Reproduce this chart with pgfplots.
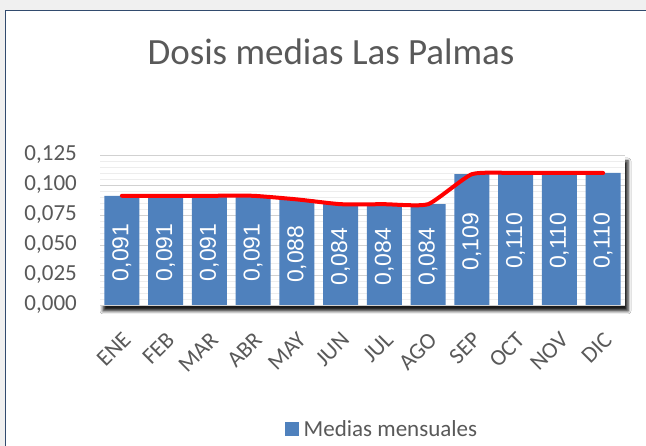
\documentclass[border=0pt]{standalone}
\usepackage{fontspec}
\setmainfont{Carlito}
\newfontfamily\arialf{Liberation Sans}
\usepackage{pgfplots}
\pgfplotsset{compat=1.18}
\usetikzlibrary{shadows.blur}
\definecolor{barblue}{RGB}{79,129,189}
\definecolor{txtgray}{RGB}{89,89,89}
\definecolor{framec}{RGB}{50,75,110}
\definecolor{bggray}{RGB}{240,240,240}
\pgfkeys{/pgf/number format/.cd, assume math mode=true, use comma, fixed, fixed zerofill, precision=3}
\begin{document}
\begin{tikzpicture}[x=1bp,y=1bp]
\path[use as bounding box] (0,0) rectangle (646,446);
\fill[bggray] (0,0) rectangle (646,446);
\fill[white] (5,0) rectangle (646,436);
\draw[framec, line width=1.5bp] (5.5,-2) -- (5.5,435.5) -- (648,435.5);
\node[anchor=base, text=txtgray, font=\fontsize{37bp}{44bp}\selectfont] at (331,381) {Dosis medias Las Palmas};
\begin{axis}[
  at={(100bp,141bp)}, anchor=south west,
  scale only axis, width=525bp, height=150bp,
  xmin=-0.5, xmax=11.5,
  ymin=0, ymax=0.125,
  xtick={0,...,11},
  xticklabels={ENE,FEB,MAR,ABR,MAY,JUN,JUL,AGO,SEP,OCT,NOV,DIC},
  ytick={0,0.025,0.05,0.075,0.1,0.125},
  scaled y ticks=false,
  major tick length=0pt, minor tick length=0pt,
  ymajorgrids, yminorgrids, minor y tick num=4,
  major grid style={draw=black!18, line width=0.8bp},
  minor grid style={draw=black!7, line width=0.6bp},
  axis line style={draw=none},
  axis background/.style={fill=white, blur shadow={shadow xshift=3bp, shadow yshift=-6bp, shadow blur radius=3bp, shadow opacity=90}},
  tick label style={text=txtgray, font=\fontsize{23bp}{27bp}\selectfont, inner sep=0pt},
  yticklabel style={anchor=east, xshift=-23bp},
  xticklabel style={xshift=5bp, yshift=-31bp, rotate=45, anchor=east},
  legend style={at={(0.537,-0.827)}, anchor=center, draw=none, fill=none,
    font=\fontsize{23bp}{27bp}\selectfont, text=txtgray},
  legend image code/.code={\fill[barblue] (0bp,-7bp) rectangle (14bp,7bp);},
]
\addplot[ybar, bar width=35bp, fill=barblue, draw=none,
  visualization depends on=rawy \as \rawy,
  nodes near coords={\pgfmathprintnumber{\pgfplotspointmeta}},
  every node near coord/.append style={shift={(axis direction cs:0,-\rawy/2)}, yshift=-2bp, rotate=90, anchor=center, text=white, font=\arialf\fontsize{23bp}{27bp}\selectfont},
] coordinates {
(0,0.091) (1,0.091) (2,0.091) (3,0.091) (4,0.088) (5,0.084)
(6,0.084) (7,0.084) (8,0.109) (9,0.110) (10,0.110) (11,0.110)
};
\addlegendentry{\hspace{3bp}Medias mensuales}
\addplot[red, line width=4bp, line cap=round, smooth, tension=0.3, forget plot] coordinates {
(0,0.091) (1,0.091) (2,0.091) (3,0.091) (4,0.088) (5,0.084)
(6,0.084) (7,0.084) (8,0.109) (9,0.110) (10,0.110) (11,0.110)
};
\end{axis}
\end{tikzpicture}
\end{document}
